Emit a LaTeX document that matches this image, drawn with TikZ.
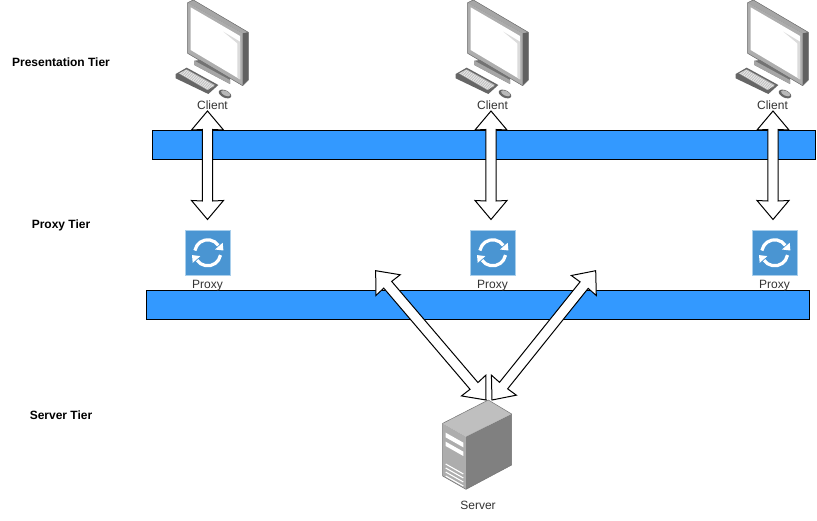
\documentclass[tikz,border=0pt]{standalone}
\usepackage{fontspec}
\setmainfont{Liberation Sans}
\usetikzlibrary{calc}
\definecolor{barblue}{HTML}{3399FF}
\definecolor{proxyblue}{HTML}{4A95D2}
\definecolor{proxyedge}{HTML}{A9CFEC}
\definecolor{labelgray}{HTML}{333333}
\tikzset{
  x=1pt,y=-1pt,
  bar/.style={draw=black,line width=1pt,fill=barblue},
  iconlabel/.style={font=\fontsize{12}{12}\selectfont,text=labelgray,inner sep=0pt,anchor=center},
  tierlabel/.style={font=\fontsize{12}{12}\selectfont\bfseries,text=black,inner sep=0pt,anchor=center},
  blockarrow/.style={draw=black,line width=1pt,fill=white,line join=miter},
  proxybox/.style={draw=proxyedge,line width=0.8pt,fill=proxyblue,minimum size=45pt,inner sep=0pt},
  monitor/.pic={
    % body
    \fill[black!55] (83,8) -- (100,0) -- (265,97) -- (265,240) -- (248,257) -- (83,160) -- cycle;
    \fill[black!35] (83,8) -- (100,0) -- (265,97) -- (248,100) -- cycle;
    \fill[black!62] (248,100) -- (265,97) -- (265,240) -- (248,257) -- cycle;
    \fill[black!32] (83,8) -- (248,100) -- (248,257) -- (83,160) -- cycle;
    \fill[white] (92,22) -- (240,108) -- (240,238) -- (92,150) -- cycle;
    \fill[black!14] (190,95) -- (240,125) -- (240,238) -- (232,232) -- (232,130) -- cycle;
    \draw[black!55,line width=0.5pt,line join=round] (83,8) -- (100,0) -- (265,97) -- (265,240) -- (248,257) -- (83,160) -- cycle;
    % stand
    \fill[black!55] (103,182) -- (120,180) -- (210,234) -- (210,252) -- (103,195) -- cycle;
    \fill[black!35] (103,182) -- (210,240) -- (210,252) -- (103,195) -- cycle;
    % keyboard
    \fill[black!60] (47,222) -- (80,203) -- (175,255) -- (145,282) -- (47,235) -- cycle;
    \fill[black!28] (56,220) -- (80,208) -- (165,255) -- (142,270) -- cycle;
    \foreach \k in {0,1,2,3,4}{
      \draw[white,line width=0.35pt] ($(60,219)+(\k*4,-\k*2.2)$) -- ($(146,268)+(\k*4,-\k*2.2)$);
    }
    % mouse
    \fill[black!60,rotate around={-25:(195,282)}] (195,282) ellipse (20 and 11);
    \fill[black!28,rotate around={-25:(197,280)}] (197,280) ellipse (15 and 7);
  },
  serverbox/.pic={
    \fill[black!25] (175,30) -- (245,72) -- (108,140) -- (38,100) -- cycle;
    \fill[black!32] (38,100) -- (108,140) -- (108,298) -- (38,258) -- cycle;
    \fill[black!50] (108,140) -- (245,72) -- (245,225) -- (108,298) -- cycle;
    \draw[black!55,line width=0.5pt,line join=round] (175,30) -- (245,72) -- (245,225) -- (108,298) -- (38,258) -- (38,100) -- cycle;
    \fill[white] (47,128) -- (100,158) -- (100,172) -- (47,142) -- cycle;
    \fill[white] (47,155) -- (100,185) -- (100,198) -- (47,168) -- cycle;
    \foreach \s in {0,12,24,36}{
      \draw[white,line width=1.1pt] (47,222+\s) -- (100,252+\s);
    }
  },
  syncicon/.pic={
    \draw[white,line width=3.2pt] (190:13) arc[start angle=190,end angle=325,radius=13];
    \draw[white,line width=3.2pt] (10:13) arc[start angle=10,end angle=145,radius=13];
    \fill[white] (15,-10) -- (15.7,-2.3) -- (7.3,-3.3) -- cycle;
    \fill[white] (-15,10) -- (-15.7,2.3) -- (-7.3,3.3) -- cycle;
  },
}
% tip A, tip B
\newcommand{\blockarrowdraw}[2]{%
  \draw[blockarrow]
    (#1)
    -- ($($(#1)!19pt!(#2)$)!16pt!90:(#2)$)
    -- ($($(#1)!18.5pt!(#2)$)!5.2pt!90:(#2)$)
    -- ($($(#2)!18.5pt!(#1)$)!5.2pt!-90:(#1)$)
    -- ($($(#2)!19pt!(#1)$)!16pt!-90:(#1)$)
    -- (#2)
    -- ($($(#2)!19pt!(#1)$)!16pt!90:(#1)$)
    -- ($($(#2)!18.5pt!(#1)$)!5.2pt!90:(#1)$)
    -- ($($(#1)!18.5pt!(#2)$)!5.2pt!-90:(#2)$)
    -- ($($(#1)!19pt!(#2)$)!16pt!-90:(#2)$)
    -- cycle;}
\begin{document}
\begin{tikzpicture}
\useasboundingbox (0,0) rectangle (817,521);
\fill[white] (0,0) rectangle (817,521);

% bars
\node[bar,minimum width=663pt,minimum height=29pt,inner sep=0pt] (topbar) at (483.5,145.5) {};
\node[bar,minimum width=663pt,minimum height=29pt,inner sep=0pt] (midbar) at (477.5,305.5) {};

% tier labels
\node[tierlabel] (tier1) at (61,62.5) {Presentation Tier};
\node[tierlabel] (tier2) at (61,225.5) {Proxy Tier};
\node[tierlabel] (tier3) at (61,415) {Server Tier};

% clients
\pic[scale=1/3] at (160,0) {monitor};
\pic[scale=1/3] at (440,0) {monitor};
\pic[scale=1/3] at (720,0) {monitor};
\node[iconlabel] (client1) at (212.5,105) {Client};
\node[iconlabel] (client2) at (492.5,105) {Client};
\node[iconlabel] (client3) at (772.5,105) {Client};

% proxies
\node[proxybox] (proxy1) at (207.7,252.8) {};
\node[proxybox] (proxy2) at (492.7,252.8) {};
\node[proxybox] (proxy3) at (774.7,252.8) {};
\pic at (proxy1) {syncicon};
\pic at (proxy2) {syncicon};
\pic at (proxy3) {syncicon};
\node[iconlabel] (plabel1) at (207.5,286) {Proxy};
\node[iconlabel] (plabel2) at (492.5,286) {Proxy};
\node[iconlabel] (plabel3) at (774.5,286) {Proxy};

% server
\pic[scale=1/3] at (430,390) {serverbox};
\node[iconlabel] (serverlabel) at (478,505) {Server};

% arrow ends
\coordinate (c1) at (207.5,111);
\coordinate (p1) at (207.5,219.5);
\coordinate (c2) at (491,111);
\coordinate (p2) at (491,219.5);
\coordinate (c3) at (773,111);
\coordinate (p3) at (773,219.5);
\coordinate (lefttip) at (375.7,270.7);
\coordinate (righttip) at (595.7,270.7);
\coordinate (srvl) at (486,400);
\coordinate (srvr) at (492,400);

\blockarrowdraw{c1}{p1}
\blockarrowdraw{c2}{p2}
\blockarrowdraw{c3}{p3}
\blockarrowdraw{lefttip}{srvl}
\blockarrowdraw{righttip}{srvr}
\end{tikzpicture}
\end{document}
